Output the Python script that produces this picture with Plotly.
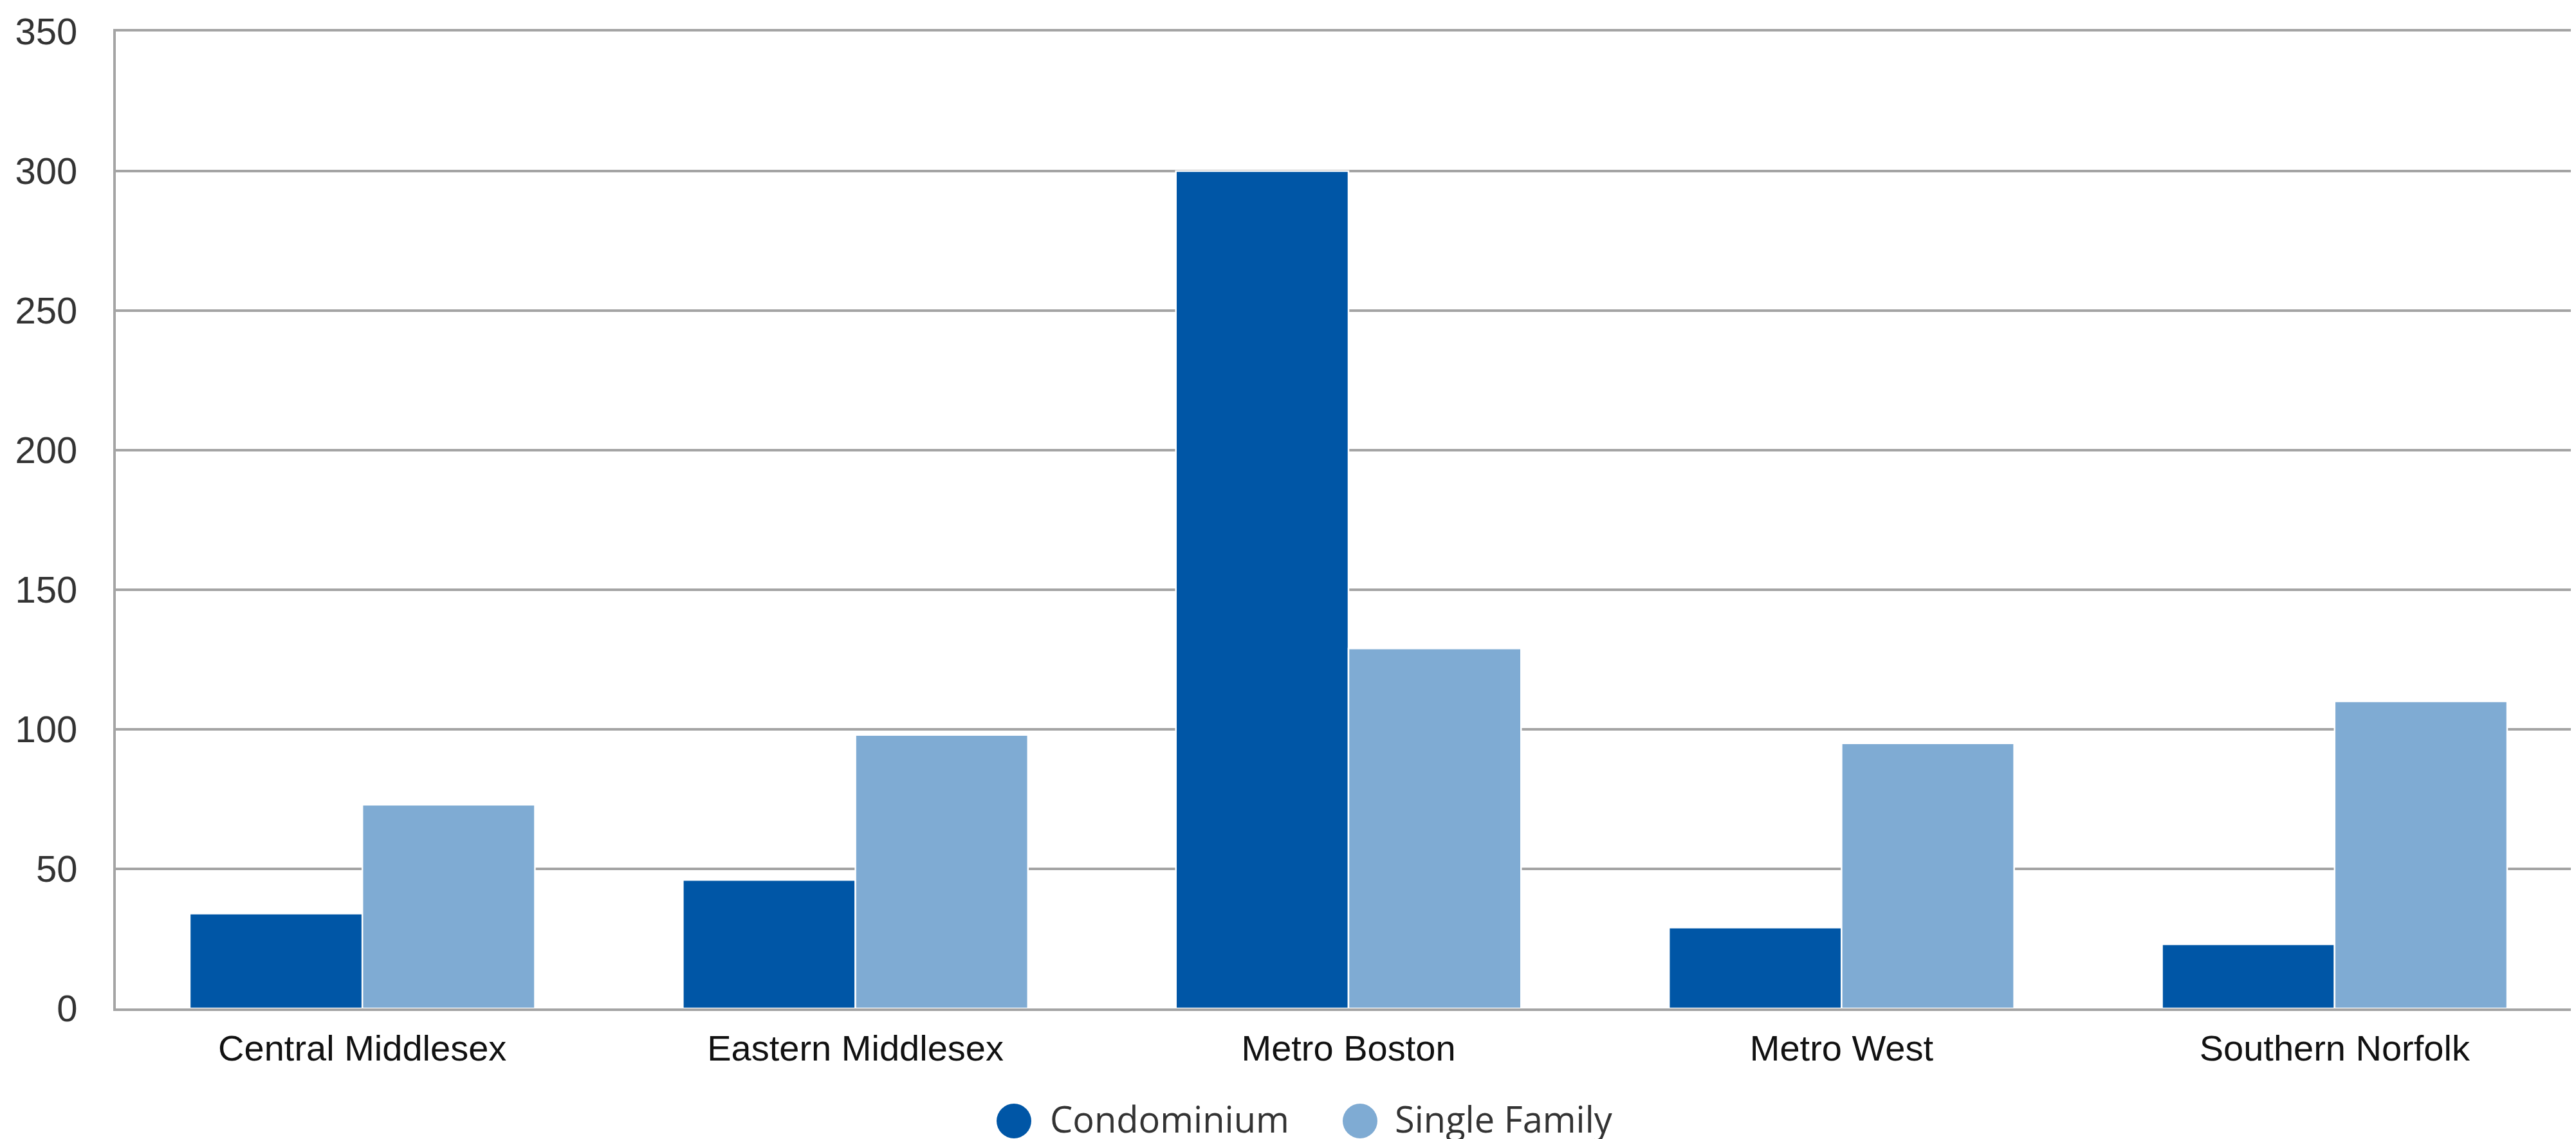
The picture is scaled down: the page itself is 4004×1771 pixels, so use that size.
import plotly.graph_objects as go

# ---- data ----
categories = ["Central Middlesex", "Eastern Middlesex", "Metro Boston", "Metro West", "Southern Norfolk"]
series_names = ["Condominium", "Single Family"]
condominium = [34, 46, 300, 29, 23]
single_family = [73, 98, 129, 95, 110]
y_ticks = [0, 50, 100, 150, 200, 250, 300, 350]

colors = ["#0056A6", "#7FABD3"]

W, H = 4004, 1771
ML, MR, MT, MB = 172, 0, 41, 211
PW, PH = W - ML - MR, H - MT - MB

fig = go.Figure()
for name, vals, col in zip(series_names, [condominium, single_family], colors):
    fig.add_trace(go.Bar(
        x=categories, y=vals, name=name,
        marker=dict(color=col, line=dict(color="white", width=2.5)),
        showlegend=False,
    ))

grid = "#A4A4A4"
fig.update_layout(
    width=W, height=H,
    margin=dict(l=ML, r=MR, t=MT, b=MB, pad=0),
    paper_bgcolor="white", plot_bgcolor="white",
    barmode="group", bargap=0.3, bargroupgap=0.0,
    xaxis=dict(
        showgrid=False, showline=True, mirror=True, linecolor=grid, linewidth=4,
        ticks="", tickfont=dict(family="Liberation Sans, Arial", size=56, color="#111111"),
        ticklabelstandoff=10,
    ),
    yaxis=dict(
        range=[0, 350], tickvals=y_ticks, ticktext=[str(v) for v in y_ticks],
        showgrid=True, gridcolor=grid, gridwidth=4,
        zeroline=False, showline=True, linecolor=grid, linewidth=4,
        ticks="", tickfont=dict(family="Liberation Sans, Arial", size=58, color="#333333"),
        ticklabelstandoff=44,
    ),
)

# ---- legend (circle markers + text), positioned in pixels ----
def px_to_paper_x(px):
    return (px - ML) / PW

def px_to_paper_y(py):
    return (H - MB - py) / PH

legend_items = [
    (series_names[0], colors[0], 1568, 1622),
    (series_names[1], colors[1], 2106, 2158),
]
legend_cy = 1735
r = 27
for name, col, cx, tx in legend_items:
    fig.add_shape(
        type="circle", xref="paper", yref="paper",
        xsizemode="pixel", ysizemode="pixel",
        xanchor=px_to_paper_x(cx), yanchor=px_to_paper_y(legend_cy),
        x0=-r, x1=r, y0=-r, y1=r,
        fillcolor=col, line=dict(width=0),
    )
    fig.add_annotation(
        text=name, xref="paper", yref="paper",
        x=px_to_paper_x(tx), y=px_to_paper_y(legend_cy - 4),
        xanchor="left", yanchor="middle", showarrow=False,
        font=dict(family="Open Sans", size=56, color="#333333"),
    )

fig.write_html("out.html")
